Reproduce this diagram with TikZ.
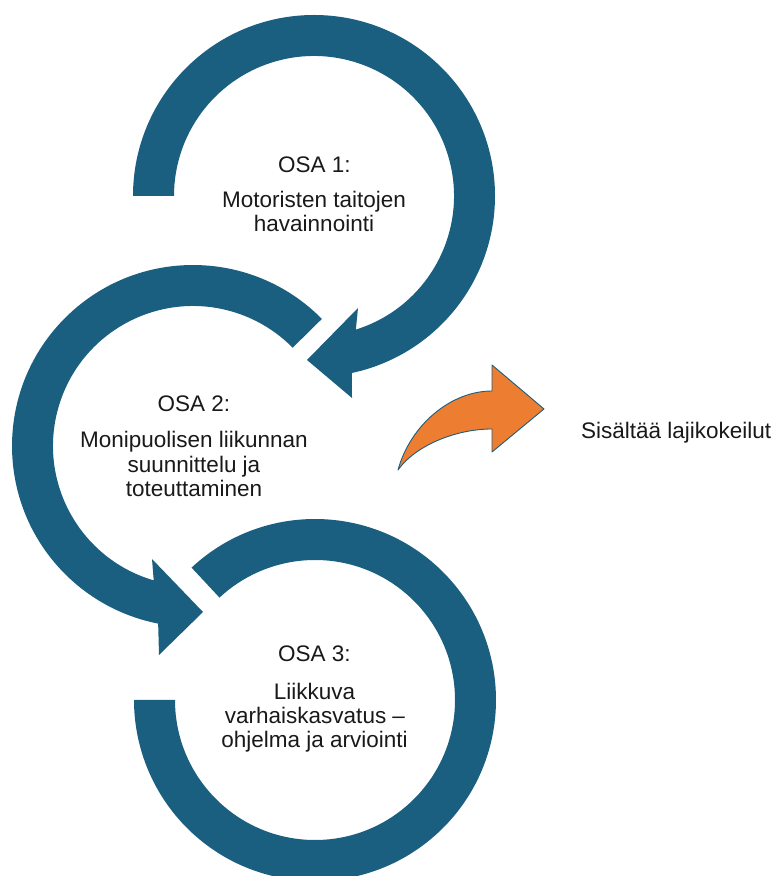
\documentclass[tikz,border=0pt]{standalone}
\usepackage{fontspec}
\setmainfont{Liberation Sans}
\definecolor{ringblue}{RGB}{26,95,127}
\definecolor{arroworange}{RGB}{237,125,49}
\definecolor{textdark}{RGB}{25,25,25}
\begin{document}
\begin{tikzpicture}[x=1pt,y=1pt,
  ring/.style={fill=ringblue},
  curvearrow/.style={fill=arroworange,draw=ringblue,line width=0.9pt,line join=round},
  lbl/.style={font=\fontsize{22.5}{24.5}\selectfont,text=textdark,inner sep=0pt,anchor=base}]
\useasboundingbox (0,0) rectangle (775,876);
\clip (0,0) rectangle (775,876);
\coordinate (c1) at (314,680);
\coordinate (c2) at (193,430);
\coordinate (c3) at (315,176);
% ring 1
\fill[ring] ([shift={(c1)}]180:181) arc[start angle=180,end angle=-77.9,radius=181]
  -- (352,478) -- (307,516) -- (358,568)
  -- ([shift={(c1)}]-72.6:140) arc[start angle=-72.6,end angle=180,radius=140] -- cycle;
% ring 2
\fill[ring] ([shift={(c2)}]44.6:181) arc[start angle=44.6,end angle=258.9,radius=181]
  -- (159,221) -- (203,264) -- (152,317)
  -- ([shift={(c2)}]253.7:140) arc[start angle=253.7,end angle=44.6,radius=140] -- cycle;
% ring 3
\fill[ring] ([shift={(c3)}]133:181) arc[start angle=133,end angle=-180,radius=181]
  -- ([shift={(c3)}]-180:140) arc[start angle=-180,end angle=133,radius=140] -- cycle;
% orange arrow
\filldraw[curvearrow] (398,406) .. controls (410,450) and (450,485) .. (492,485)
  -- (492,511) -- (544,467) -- (492,424) -- (492,447)
  .. controls (455,447) and (415,430) .. (398,406) -- cycle;
% texts
\node[lbl] (t1a) at (314.5,703) {OSA 1:};
\node[lbl] (t1b) at (314,668) {Motoristen taitojen};
\node[lbl] (t1c) at (314,644) {havainnointi};
\node[lbl] (t2a) at (194,464) {OSA 2:};
\node[lbl] (t2b) at (194,428) {Monipuolisen liikunnan};
\node[lbl] (t2c) at (194,403.5) {suunnittelu ja};
\node[lbl] (t2d) at (194,379) {toteuttaminen};
\node[lbl] (t3a) at (314.5,214) {OSA 3:};
\node[lbl] (t3b) at (314.5,176) {Liikkuva};
\node[lbl] (t3c) at (315,152.5) {varhaiskasvatus –};
\node[lbl] (t3d) at (314.5,128.5) {ohjelma ja arviointi};
\node[lbl,anchor=base west] (t4) at (581,437) {Sisältää lajikokeilut};
\end{tikzpicture}
\end{document}
